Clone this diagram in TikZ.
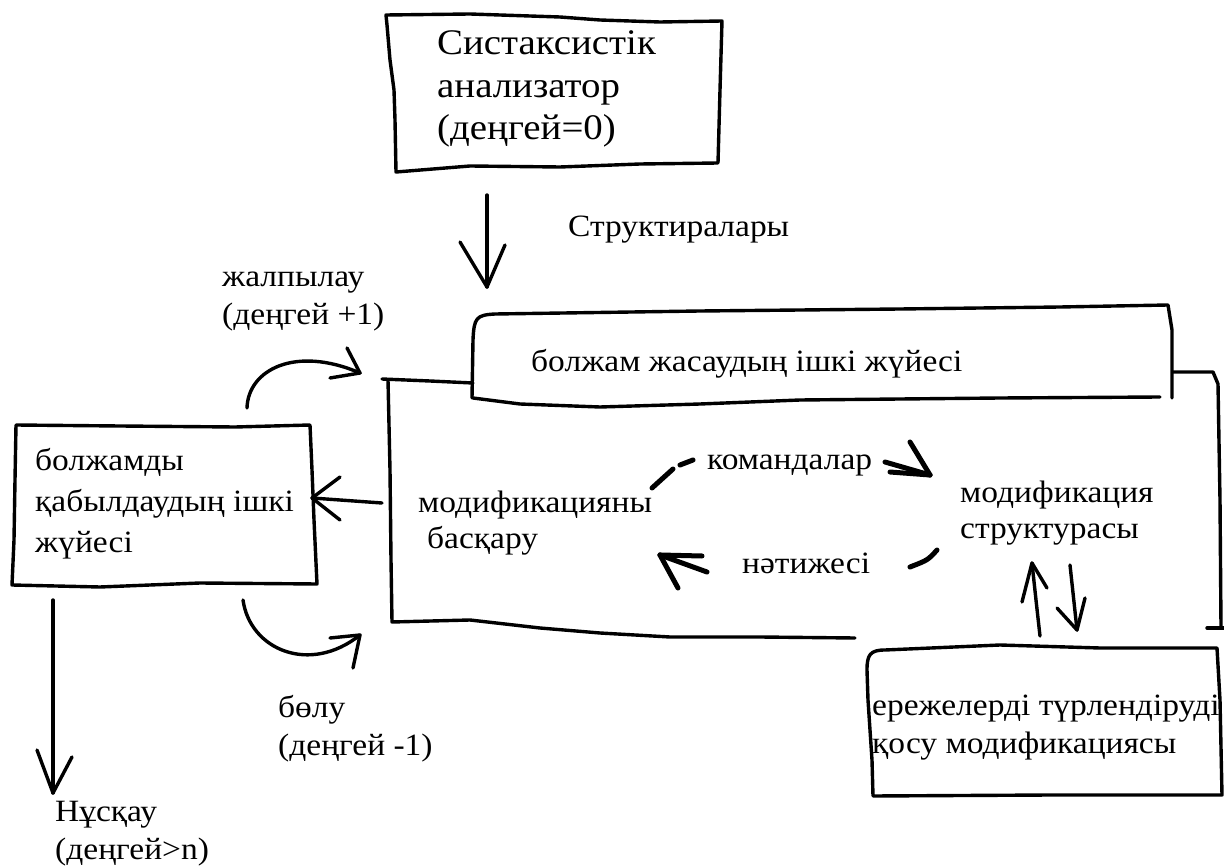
\documentclass[tikz,border=0pt]{standalone}
\usepackage{fontspec}
\setmainfont[FakeStretch=1.08]{Liberation Serif}
\begin{document}
\begin{tikzpicture}[x=1pt,y=-1pt,
  pen/.style={line width=3.4pt, line join=round, line cap=round},
  heavypen/.style={line width=5pt, line join=round, line cap=round},
  % labels are placed at the baseline of their last line
  lbl/.style={inner sep=0pt, anchor=base west, align=left,
    font=\fontsize{31}{#1}\selectfont},
  lbl/.default=42]
\fill[white] (0,0) rectangle (1224,866);
\useasboundingbox (0,0) rectangle (1224,866);

% ---------- text ----------
\node[lbl=42.5, font=\fontsize{36}{42.5}\selectfont] (parser) at (437,140)
  {Систаксистік\\анализатор\\(деңгей=0)};
\node[lbl] (structs) at (568,237) {Структиралары};
\node[lbl=38] (general) at (222,325) {жалпылау\\(деңгей +1)};
\node[lbl] (hypgen) at (531,372) {болжам жасаудың ішкі жүйесі};
\node[lbl=41] (accept) at (35,552) {болжамды\\қабылдаудың ішкі\\жүйесі};
\node[lbl=36] (control) at (418,548) {модификацияны\\\hspace*{9pt}басқару};
\node[lbl] (commands) at (707,470) {командалар};
\node[lbl=36] (modstruct) at (960,538) {модификация\\структурасы};
\node[lbl] (result) at (742,573) {нәтижесі};
\node[lbl=38] (rules) at (872,753) {ережелерді түрлендіруді\\қосу модификациясы};
\node[lbl=38] (split) at (278,755) {бөлу\\(деңгей -1)};
\node[lbl=38] (instr) at (55,859) {Нұсқау\\(деңгей>n)};

% ---------- hand-drawn boxes ----------
% syntactic analyser
\draw[pen] (386,15) -- (470,14) -- (560,17) -- (600,20) -- (660,22) -- (722,21)
  -- (720,90) -- (718,163) -- (640,164) -- (560,167) -- (470,166) -- (396,172)
  -- (395,120) -- (394,90) -- (390,60) -- (387,25) -- cycle;
% hypothesis generation subsystem (outer frame)
\draw[pen] (382,379) -- (430,381) -- (473,383);
\draw[pen] (388,380) -- (390,470) -- (391,560) -- (392,622) -- (470,620)
  -- (540,628) -- (600,633) -- (670,637) -- (760,637) -- (855,638);
\draw[pen] (1173,372) -- (1213,372) -- (1218,384) -- (1220,500) -- (1221,627);
\draw[pen] (1207,628) -- (1224,628);
% hypothesis generation subsystem (title strip)
\draw[pen] (472,398) -- (473,340) .. controls (474,318) and (476,315) .. (495,314)
  -- (700,311) -- (900,309) -- (1060,307) -- (1168,305) -- (1172,330) -- (1172,398);
\draw[pen] (473,398) -- (520,404) -- (600,407) -- (700,404) -- (800,400)
  -- (1000,398) -- (1160,397);
% hypothesis acceptance subsystem
\draw[pen] (16,425) -- (120,426) -- (235,427) -- (310,425) -- (312,470)
  -- (314,520) -- (317,584) -- (200,583) -- (100,587) -- (12,585)
  -- (14,540) -- (15,480) -- cycle;
% rule transformation box
\draw[pen] (868,700) -- (867,670) .. controls (867,655) and (870,650) .. (885,650)
  -- (1000,645) -- (1100,648) -- (1217,648) -- (1220,700) -- (1222,795)
  -- (1050,795) -- (873,796) -- (872,760) -- (870,730) -- cycle;

% ---------- connectors ----------
\coordinate (a1s) at (487,195); \coordinate (a1t) at (487,287);
\draw[pen] (a1s) -- (a1t);
\draw[pen] (a1t) ++(-27,-45) -- (a1t) -- ++(18,-42);

\coordinate (a2s) at (382,503); \coordinate (a2t) at (312,498);
\draw[pen] (a2s) -- (a2t);
\draw[pen] (a2t) ++(28,-21) -- (a2t) -- ++(28,22);

\coordinate (a3s) at (247,408); \coordinate (a3t) at (360,373);
\draw[pen] (a3s) .. controls (248,370) and (295,345) .. (a3t);
\draw[pen] (a3t) ++(-13,-25) -- (a3t) -- ++(-30,5);

\coordinate (a4s) at (243,600); \coordinate (a4t) at (360,635);
\draw[pen] (a4s) .. controls (250,650) and (310,675) .. (a4t);
\draw[pen] (a4t) ++(-30,3) -- (a4t) -- ++(-7,33);

\coordinate (a5s) at (53,600); \coordinate (a5t) at (53,793);
\draw[pen] (a5s) -- (a5t);
\draw[pen] (a5t) ++(-16,-43) -- (a5t) -- ++(19,-36);

% command / result loop
\draw[heavypen] (652,488) -- (673,469);
\draw[heavypen] (680,465) -- (693,460);
\coordinate (a6t) at (930,475);
\draw[heavypen] (885,462) -- (a6t);
\draw[heavypen] (890,472) -- (a6t);
\draw[heavypen] (910,442) -- (a6t);
\draw[heavypen] (937,550) .. controls (928,560) .. (910,567);
\coordinate (a7t) at (660,555);
\draw[heavypen] (707,572) -- (a7t);
\draw[heavypen] (702,556) -- (a7t);
\draw[heavypen] (678,588) -- (a7t);

% exchange with rule box
\coordinate (a8s) at (1040,636); \coordinate (a8t) at (1032,563);
\draw[pen] (a8s) -- (1036,600) -- (a8t);
\draw[pen] (1022,602) -- (a8t) -- (1047,588);
\coordinate (a9s) at (1070,565); \coordinate (a9t) at (1077,630);
\draw[pen] (a9s) -- (a9t);
\draw[pen] (1057,608) -- (a9t) -- (1085,598);
\end{tikzpicture}
\end{document}
